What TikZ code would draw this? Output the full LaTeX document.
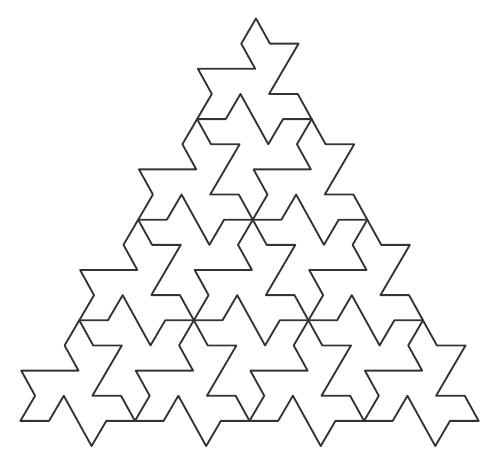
\documentclass[tikz,border=0pt]{standalone}
\usepackage{tikz}
\usetikzlibrary{calc}

\tikzset{
    canh/.style={black!80, line width=1.3pt, line join=round, line cap=round},
}

% Một cạnh răng cưa của lưới tam giác, đi từ đỉnh #1 theo góc #2
\newcommand{\canhrang}[2]{%
    \draw[canh] (#1) -- ++(#2:1) -- ++(#2+60:1) -- ++(#2-60:2) -- ++(#2+60:1) -- ++(#2:1);
}

\begin{document}
\begin{tikzpicture}[x=0.716cm, y={(0.0117cm,0.726cm)}]
    \useasboundingbox (-6.4cm,0.4625cm) rectangle (5.65cm,-10.9875cm);

    % Các đỉnh của lưới tam giác
    \foreach \i in {0,...,4} {
        \foreach \j in {0,...,\i} {
            \coordinate (v\i\j) at ({4*\j-2*\i},{-3.4641*\i});
        }
    }

    % Các cạnh ngang
    \foreach \i in {1,...,4} {
        \pgfmathtruncatemacro{\m}{\i-1}
        \foreach \j in {0,...,\m} {
            \canhrang{v\i\j}{0}
        }
    }

    % Các cạnh xiên
    \foreach \i in {0,...,3} {
        \foreach \j in {0,...,\i} {
            \canhrang{v\i\j}{240}
            \canhrang{v\i\j}{300}
        }
    }
\end{tikzpicture}
\end{document}
